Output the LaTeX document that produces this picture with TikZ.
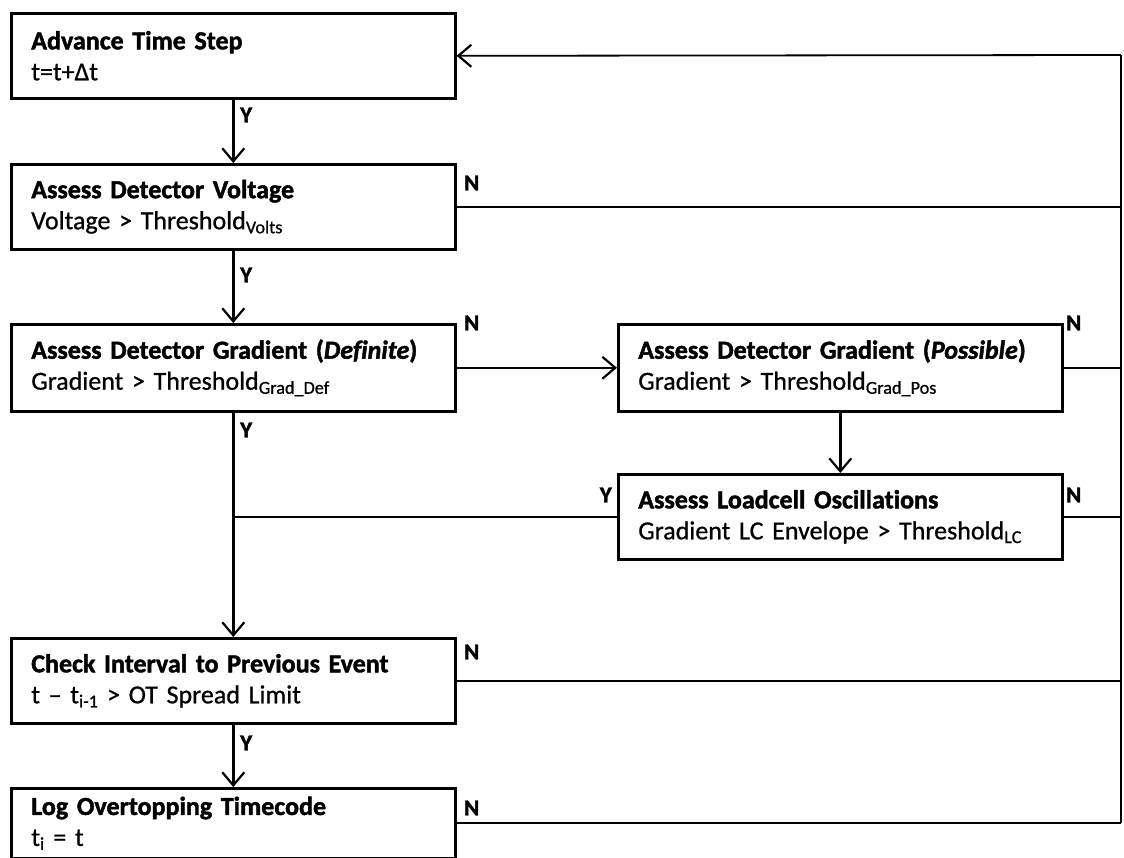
\documentclass[tikz,border=0pt]{standalone}
\usepackage{fontspec}
\setmainfont{Carlito}[Ligatures=NoCommon,
  UprightFeatures={FakeBold=0.8}, ItalicFeatures={FakeBold=0.8},
  BoldFeatures={FakeBold=1.6}, BoldItalicFeatures={FakeBold=1.6}]
\usetikzlibrary{arrows.meta}
\begin{document}
\begin{tikzpicture}[x=1pt,y=-1pt,
  flowbox/.style={draw, line width=2.6pt, anchor=north west, align=left,
    inner xsep=20pt, inner ysep=0pt, text width=404pt, minimum width=444pt,
    font=\fontsize{26}{31}\selectfont},
  flow/.style={line width=2.4pt, -{Straight Barb[length=13pt,width=22pt,line width=2.2pt]}},
  plain/.style={line width=1.8pt},
  yn/.style={font=\bfseries\fontsize{23}{23}\selectfont, inner sep=0pt}]
\useasboundingbox (0,0) rectangle (1124,858);
\node[flowbox, minimum height=85pt] (b1) at (10,12) {\textbf{Advance Time Step}\\t=t+Δt};
\node[flowbox, minimum height=85pt] (b2) at (10,163) {\textbf{Assess Detector Voltage}\\Voltage > Threshold\textsubscript{Volts}};
\node[flowbox, minimum height=87pt] (b3) at (10,323) {\textbf{Assess Detector Gradient (\textit{Definite})}\\Gradient > Threshold\textsubscript{Grad\_Def}};
\node[flowbox, minimum height=87pt] (b4) at (617,323) {\textbf{Assess Detector Gradient (\textit{Possible})}\\Gradient > Threshold\textsubscript{Grad\_Pos}};
\node[flowbox, minimum height=85pt] (b5) at (617,473) {\textbf{Assess Loadcell Oscillations}\\Gradient LC Envelope > Threshold\textsubscript{LC}};
\node[flowbox, minimum height=85pt] (b6) at (10,637) {\textbf{Check Interval to Previous Event}\\t – t\textsubscript{i-1} > OT Spread Limit};
\node[flowbox, minimum height=70pt] (b7) at (10,787) {\textbf{Log Overtopping Timecode}\\t\textsubscript{i} = t};
% main flow
\draw[flow] (b1.south) -- (b2.north);
\draw[flow] (b2.south) -- (b3.north);
\draw[flow] (b3.south) -- (b6.north);
\draw[flow] (b6.south) -- (b7.north);
\draw[flow] (b3.east) -- (b4.west);
\draw[flow] (b4.south) -- (b5.north);
\coordinate (j1) at (b3.south |- b5.west);
\draw[plain] (b5.west) -- (j1);
% return path
\coordinate (rtop) at (1121,55);
\coordinate (rbot) at (rtop |- b7.east);
\draw[plain] (rtop) -- (rbot);
\draw[flow, line width=1.8pt] (rtop) -- (b1.east);
\draw[plain] (b2.east) -- (rtop |- b2.east);
\draw[plain] (b4.east) -- (rtop |- b4.east);
\draw[plain] (b5.east) -- (rtop |- b5.east);
\draw[plain] (b6.east) -- (rtop |- b6.east);
\draw[plain] (b7.east) -- (rbot);
% labels
\node[yn, anchor=west] (y1) at (240,115) {Y};
\node[yn, anchor=west] (y2) at (240,275) {Y};
\node[yn, anchor=west] (y3) at (240,430) {Y};
\node[yn, anchor=west] (y6) at (240,743) {Y};
\node[yn, anchor=east] (y5) at (612,495) {Y};
\node[yn, anchor=west] (n2) at (464,183) {N};
\node[yn, anchor=west] (n3) at (464,323) {N};
\node[yn, anchor=west] (n4) at (1066,323) {N};
\node[yn, anchor=west] (n5) at (1066,495) {N};
\node[yn, anchor=west] (n6) at (464,652) {N};
\node[yn, anchor=west] (n7) at (464,808) {N};
\end{tikzpicture}
\end{document}
